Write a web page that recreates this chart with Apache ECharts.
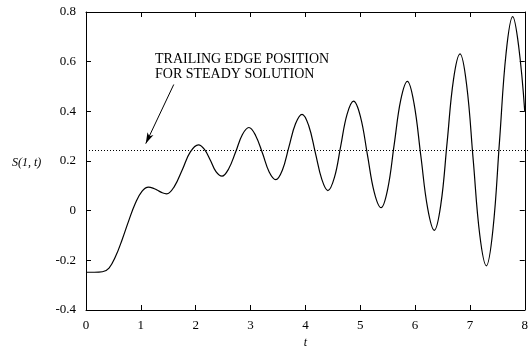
<!DOCTYPE html>
<html>
<head>
<meta charset="utf-8">
<script src="https://cdn.jsdelivr.net/npm/echarts@6/dist/echarts.min.js"></script>
<style>
html,body{margin:0;padding:0;background:#fff;}
#c{width:531px;height:354px;}
</style>
</head>
<body>
<div id="c"></div>
<script>
var tValues = [0, 0.15, 0.3, 0.42, 0.54, 0.66, 0.78, 0.90, 1.02, 1.14, 1.22, 1.305, 1.39, 1.47, 1.61, 1.76, 1.90, 2.05, 2.16, 2.27, 2.37, 2.48, 2.60, 2.73, 2.85, 2.97, 3.09, 3.22, 3.34, 3.46, 3.58, 3.70, 3.82, 3.94, 4.06, 4.18, 4.30, 4.41, 4.53, 4.645, 4.76, 4.88, 5.005, 5.13, 5.255, 5.38, 5.50, 5.62, 5.74, 5.86, 5.98, 6.105, 6.23, 6.35, 6.47, 6.585, 6.70, 6.82, 6.94, 7.06, 7.18, 7.30, 7.42, 7.54, 7.66, 7.78, 7.89, 8.0];
var sValues = [-0.248, -0.248, -0.246, -0.231, -0.184, -0.116, -0.040, 0.030, 0.078, 0.095, 0.091, 0.082, 0.072, 0.068, 0.097, 0.167, 0.236, 0.265, 0.247, 0.202, 0.157, 0.139, 0.168, 0.237, 0.306, 0.335, 0.304, 0.230, 0.156, 0.125, 0.163, 0.257, 0.350, 0.388, 0.343, 0.235, 0.126, 0.081, 0.134, 0.261, 0.388, 0.441, 0.378, 0.227, 0.075, 0.012, 0.086, 0.267, 0.447, 0.521, 0.433, 0.221, 0.009, -0.079, 0.025, 0.276, 0.527, 0.631, 0.507, 0.205, -0.098, -0.222, -0.076, 0.280, 0.635, 0.781, 0.660, 0.40];
var steadyLevel = 0.245;
var xTicks = [0, 8, 1];
var yTicks = [-0.4, 0.8, 0.2];
var arrowFrom = [1.60, 0.508];
var arrowTo = [1.09, 0.27];
var annotationLines = ['TRAILING EDGE POSITION', 'FOR STEADY SOLUTION'];
var xName = 't';
var yName = 'S(1, t)';

var font = 'Liberation Serif';
var data = tValues.map(function (t, i) { return [t, sValues[i]]; });
var chart = echarts.init(document.getElementById('c'), null, {renderer: 'canvas'});
var lineStyleAxis = {color: '#000', width: 1};
function yFmt(v) { return (Math.round(v * 10) / 10).toString(); }
chart.setOption({
  backgroundColor: '#fff',
  animation: false,
  grid: {left: 86, right: 1, top: 12, bottom: 41},
  xAxis: [{
    type: 'value', min: xTicks[0], max: xTicks[1], interval: xTicks[2],
    position: 'bottom',
    axisLine: {show: true, onZero: false, lineStyle: lineStyleAxis},
    axisTick: {show: true, inside: true, length: 5, lineStyle: lineStyleAxis},
    axisLabel: {color: '#000', fontFamily: font, fontSize: 13, margin: 9},
    splitLine: {show: false},
    name: xName, nameLocation: 'middle', nameGap: 27,
    nameTextStyle: {color: '#000', fontFamily: font, fontSize: 12, fontStyle: 'italic'}
  }, {
    type: 'value', min: xTicks[0], max: xTicks[1], interval: xTicks[2],
    position: 'top',
    axisLine: {show: true, onZero: false, lineStyle: lineStyleAxis},
    axisTick: {show: true, inside: true, length: 5, lineStyle: lineStyleAxis},
    axisLabel: {show: false},
    splitLine: {show: false}
  }],
  yAxis: [{
    type: 'value', min: yTicks[0], max: yTicks[1], interval: yTicks[2],
    position: 'left',
    axisLine: {show: true, onZero: false, lineStyle: lineStyleAxis},
    axisTick: {show: true, inside: true, length: 5, lineStyle: lineStyleAxis},
    axisLabel: {color: '#000', fontFamily: font, fontSize: 13, margin: 10, formatter: yFmt},
    splitLine: {show: false}
  }, {
    type: 'value', min: yTicks[0], max: yTicks[1], interval: yTicks[2],
    position: 'right',
    axisLine: {show: true, onZero: false, lineStyle: lineStyleAxis},
    axisTick: {show: true, inside: true, length: 5, lineStyle: lineStyleAxis},
    axisLabel: {show: false},
    splitLine: {show: false}
  }],
  series: [{
    type: 'line',
    data: data,
    smooth: 0.4,
    showSymbol: false,
    symbol: 'none',
    lineStyle: {color: '#000', width: 1.2},
    markLine: {
      silent: true,
      animation: false,
      label: {show: false},
      symbol: ['none', 'none'],
      data: [
        [{yAxis: steadyLevel, x: 86}, {yAxis: steadyLevel, x: 530}]
      ],
      lineStyle: {color: '#000', type: [1, 2], width: 1}
    }
  }, {
    type: 'line',
    data: [],
    markLine: {
      silent: true,
      animation: false,
      label: {show: false},
      symbol: ['none', 'arrow'],
      symbolSize: [5, 11],
      data: [[{coord: arrowFrom}, {coord: arrowTo}]],
      lineStyle: {color: '#000', type: 'solid', width: 1}
    }
  }],
  graphic: [{
    type: 'text', left: 155, top: 52,
    style: {text: annotationLines.join('\n'), font: '14px "Liberation Serif"', fill: '#000', lineHeight: 15}
  }, {
    type: 'text', left: 12, top: 157,
    style: {text: yName, font: 'italic 12px "Liberation Serif"', fill: '#000'}
  }]
});
</script>
</body>
</html>
